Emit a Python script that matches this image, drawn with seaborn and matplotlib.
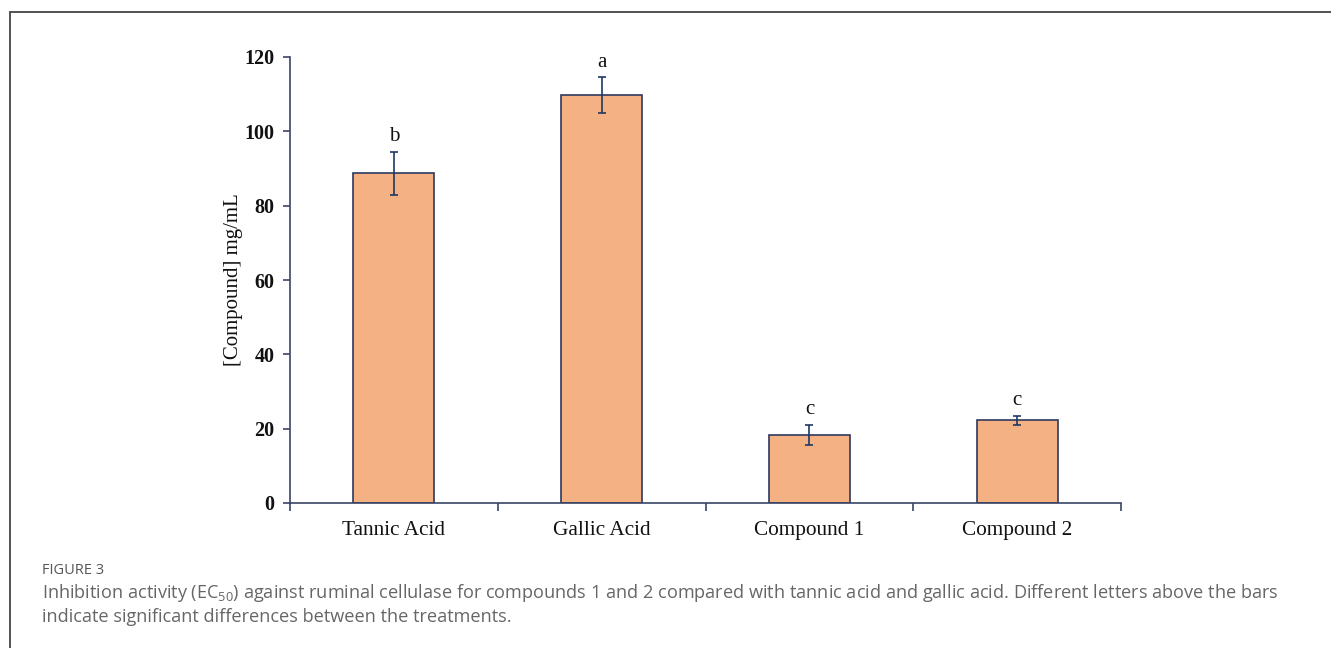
import matplotlib
matplotlib.use("Agg")
import matplotlib.pyplot as plt
import seaborn as sns
import pandas as pd
from matplotlib.patches import Rectangle
from matplotlib.ticker import FixedLocator

# EC50 values (mg/mL) with standard deviations and significance letters
categories = ["Tannic Acid", "Gallic Acid", "Compound 1", "Compound 2"]
means = [88.7, 109.7, 18.4, 22.2]
errors = [5.8, 4.8, 2.7, 1.3]
letters = ["b", "a", "c", "c"]
yticks = [0, 20, 40, 60, 80, 100, 120]

bar_fill = "#F4B183"
bar_edge = "#2E3A5E"
axis_col = "#3B4466"
err_col = "#1F3864"

sns.set_theme(style="white")
plt.rcParams["font.family"] = ["Liberation Serif", "DejaVu Serif"]

fig = plt.figure(figsize=(13.31, 6.48), dpi=100)
ax = fig.add_axes([290 / 1331, 1 - 503 / 648, (1121 - 290) / 1331, (503 - 57) / 648])

df = pd.DataFrame({"category": categories, "value": means})
sns.barplot(data=df, x="category", y="value", color=bar_fill, saturation=1,
            edgecolor=bar_edge, linewidth=1.2, width=0.39, ax=ax, errorbar=None)

xs = list(range(len(categories)))
ax.errorbar(xs, means, yerr=errors, fmt="none", ecolor=err_col,
            elinewidth=1.2, capsize=3.2, capthick=1.2, zorder=5)

for x, m, e, lab in zip(xs, means, errors, letters):
    ax.annotate(lab, xy=(x, m + e), xytext=(0, 4), textcoords="offset points",
                ha="center", va="bottom", fontsize=15, color="#111111")

ax.set_xlim(-0.5, len(categories) - 0.5)
ax.set_ylim(0, 120)
ax.set_yticks(yticks)
ax.set_yticklabels([str(v) for v in yticks], fontweight="bold", fontsize=14.5)
ax.set_xticks(xs)
ax.set_xticklabels(categories, fontsize=15.3)
ax.xaxis.set_minor_locator(FixedLocator([i - 0.5 for i in range(len(categories) + 1)]))
ax.tick_params(axis="x", which="major", length=0, pad=13, colors="#111111")
ax.tick_params(axis="x", which="minor", length=6, width=1.2, color=axis_col, direction="out", bottom=True)
ax.tick_params(axis="y", length=5, width=1.2, color=axis_col, direction="out", left=True, pad=6, labelcolor="#111111")
ax.set_xlabel("")
ax.set_ylabel("[Compound] mg/mL", fontsize=15, labelpad=1, color="#111111")

for side in ["top", "right"]:
    ax.spines[side].set_visible(False)
for side in ["left", "bottom"]:
    ax.spines[side].set_color(axis_col)
    ax.spines[side].set_linewidth(1.2)

# panel frame
fig.patches.append(Rectangle((10 / 1331, -0.05), 1.2, 1 - 12 / 648 + 0.05,
                             transform=fig.transFigure, fill=False,
                             edgecolor="#444444", linewidth=1.3))

cap_font = ["Open Sans", "DejaVu Sans"]
fig.text(42 / 1331, 1 - 570 / 648, "FIGURE 3", family=cap_font, fontsize=10.5,
         color="#555555", va="center", ha="left")
fig.text(42 / 1331, 1 - 593 / 648,
         r"Inhibition activity (EC$_{\mathregular{50}}$) against ruminal cellulase for compounds 1 and 2 "
         "compared with tannic acid and gallic acid. Different letters above the bars",
         family=cap_font, fontsize=13.1, color="#666666", va="center", ha="left")
fig.text(42 / 1331, 1 - 617 / 648,
         "indicate significant differences between the treatments.",
         family=cap_font, fontsize=13.1, color="#666666", va="center", ha="left")

fig.savefig("out.png", dpi=100)
